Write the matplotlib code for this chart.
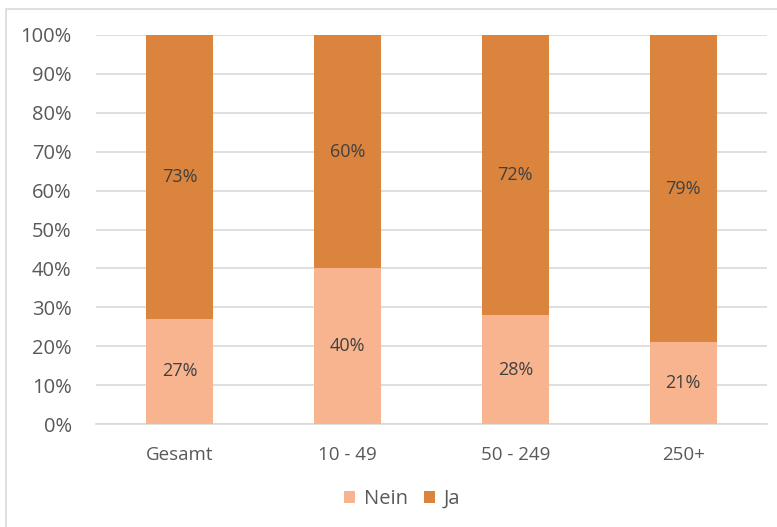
import matplotlib
matplotlib.use("Agg")
import matplotlib.pyplot as plt
from matplotlib.patches import Rectangle

categories = ["Gesamt", "10 - 49", "50 - 249", "250+"]
nein = [27, 40, 28, 21]
ja = [73, 60, 72, 79]
yticks = [0, 10, 20, 30, 40, 50, 60, 70, 80, 90, 100]

c_nein = "#F8B48F"
c_ja = "#DB843D"
txt = "#595959"

plt.rcParams['font.family'] = ['Open Sans', 'DejaVu Sans']

fig = plt.figure(figsize=(7.77, 5.27), dpi=100)
fig.patches.append(Rectangle((6/777, -0.1), 1.2, 1 - 9/527 + 0.1, transform=fig.transFigure,
                             fill=False, edgecolor="#D9D9D9", linewidth=1.2))
ax = fig.add_axes([96/777, 1 - 424/527, (767 - 96)/777, (424 - 35)/527])

x = list(range(len(categories)))
b1 = ax.bar(x, nein, width=0.4, color=c_nein, label="Nein", zorder=3)
b2 = ax.bar(x, ja, width=0.4, bottom=nein, color=c_ja, label="Ja", zorder=3)

for i in x:
    ax.text(i, nein[i] / 2, f"{nein[i]}%", ha="center", va="center", fontsize=13, color="#404040", zorder=4)
    ax.text(i, nein[i] + ja[i] / 2, f"{ja[i]}%", ha="center", va="center", fontsize=13, color="#404040", zorder=4)

ax.set_xlim(-0.5, len(categories) - 0.5)
ax.set_ylim(0, 100)
ax.set_yticks(yticks)
ax.set_yticklabels([f"{v}%" for v in yticks], fontsize=14.5, color=txt)
ax.set_xticks(x)
ax.set_xticklabels(categories, fontsize=13.5, color=txt)
ax.tick_params(axis="both", length=0)
ax.tick_params(axis="x", pad=16)
ax.tick_params(axis="y", pad=17.5)
ax.yaxis.grid(True, color="#D9D9D9", linewidth=1.2, zorder=0)
for s in ["top", "right", "left"]:
    ax.spines[s].set_visible(False)
ax.spines["bottom"].set_color("#D9D9D9")
ax.spines["bottom"].set_linewidth(1.2)

fig.legend(handles=[b1, b2], labels=["Nein", "Ja"], loc="center", bbox_to_anchor=(402/777, 1 - 499/527),
           ncol=2, frameon=False, fontsize=14.5, handlelength=0.55, handleheight=0.55,
           columnspacing=0.8, handletextpad=0.45, labelcolor=txt)

fig.savefig("out.png", dpi=100)
